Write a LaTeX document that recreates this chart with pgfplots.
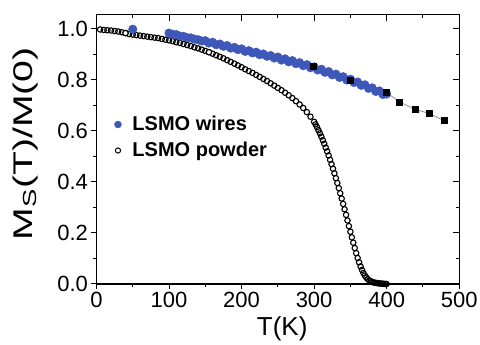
\documentclass[border=0pt]{standalone}
\usepackage{pgfplots}
\pgfplotsset{compat=1.18}
\usepackage{fontspec}
\setmainfont{Liberation Sans}
\definecolor{wireblue}{RGB}{62,88,186}
\definecolor{fitgray}{RGB}{140,140,170}
\begin{document}
\begin{tikzpicture}
\path[use as bounding box] (-96.5pt,-61pt) rectangle (383.5pt,284pt);
\begin{axis}[
  at={(0pt,0pt)}, anchor=south west, scale only axis,
  width=362.7pt, height=269.3pt,
  xmin=0, xmax=500, ymin=0, ymax=1.056,
  xtick={0,100,200,300,400,500},
  ytick={0,0.2,0.4,0.6,0.8,1.0},
  minor x tick num=1, minor y tick num=1,
  tick align=outside, xtick pos=left, ytick pos=left,
  major tick length=5pt, minor tick length=3pt,
  every tick/.style={line width=1pt, black},
  axis line style={line width=1.2pt},
  /pgf/number format/assume math mode=true,
  yticklabel style={/pgf/number format/fixed, /pgf/number format/fixed zerofill, /pgf/number format/precision=1},
  tick label style={font=\fontsize{22}{26}\selectfont},
  xlabel={T(K)},
  xlabel style={font=\fontsize{26}{30}\selectfont, at={(axis description cs:0.512,-0.165)}, anchor=center},
  ylabel={\scalebox{1.45}[1]{M\textsubscript{S}(T)/M(0)}},
  ylabel style={font=\fontsize{27}{30}\selectfont, at={(axis description cs:-0.197,0.52)}, anchor=center},
  legend style={at={(axis description cs:0.049,0.544)}, anchor=west, draw=none, fill=none,
    font=\bfseries\fontsize{20}{24}\selectfont, row sep=6pt, inner sep=0pt,
    /tikz/every odd column/.append style={column sep=9pt}},
  legend cell align=left,
]
\addlegendimage{only marks, mark=*, mark size=3.5pt, color=wireblue}
\addlegendentry{LSMO wires}
\addlegendimage{only marks, mark=o, mark size=2.6pt, black, mark options={line width=1pt}}
\addlegendentry{LSMO powder}

% LSMO powder (open circles)
\addplot[forget plot, only marks, mark=o, mark size=2.7pt, black, mark options={line width=1.1pt, fill=none}] coordinates {
(5,0.998)(10,0.996)(15,0.995)(20,0.994)(25,0.992)(30,0.990)(35,0.987)(40,0.984)(45,0.980)
(50,0.978)(55,0.976)(60,0.974)(65,0.972)(70,0.970)(75,0.968)(80,0.966)(85,0.964)(90,0.961)
(95,0.958)(100,0.955)(105,0.952)(110,0.948)(115,0.945)(120,0.941)(125,0.937)(130,0.933)
(135,0.928)(140,0.924)(145,0.919)(150,0.914)(155,0.909)(160,0.903)(165,0.897)(170,0.891)
(175,0.885)(180,0.878)(185,0.871)(190,0.864)(195,0.857)(200,0.850)(205,0.842)(210,0.835)
(215,0.828)(220,0.820)(225,0.812)(230,0.804)(235,0.796)(240,0.787)(245,0.778)(250,0.769)
(255,0.760)(260,0.750)(265,0.740)(270,0.729)(275,0.717)(280,0.704)(285,0.690)(290,0.674)
(295,0.656)(300,0.636)(302,0.626)(304,0.615)(306,0.603)(308,0.591)(310,0.578)(312,0.564)
(314,0.550)(316,0.535)(318,0.520)(320,0.504)(322,0.487)(324,0.470)(326,0.452)(328,0.434)
(330,0.415)(332,0.396)(334,0.376)(336,0.356)(338,0.335)(340,0.314)(342,0.293)(344,0.271)
(346,0.249)(348,0.227)(350,0.205)(352,0.183)(354,0.162)(356,0.141)(358,0.121)(360,0.102)
(362,0.085)(364,0.069)(366,0.055)(368,0.043)(370,0.033)(372,0.025)(374,0.019)(376,0.014)
(378,0.011)(380,0.008)(382,0.006)(384,0.005)(386,0.004)(388,0.003)(390,0.002)(392,0.002)
(394,0.001)(396,0.001)(398,0.000)(400,0.000)
};
\addplot[forget plot, only marks, mark=*, mark size=2.7pt, black, mark options={line width=1.1pt, fill=white}] coordinates {
(40,0.984)(155,0.909)
};

% LSMO wires (blue filled circles)
\addplot[forget plot, only marks, mark=*, mark size=4.3pt, color=wireblue] coordinates {
(50,0.999)
(100,0.984)(105,0.979)(110,0.978)(115,0.972)(120,0.971)(125,0.966)(130,0.965)(135,0.960)
(140,0.958)(145,0.953)(150,0.954)(155,0.945)(160,0.948)(165,0.938)(170,0.941)(175,0.932)
(180,0.935)(185,0.925)(190,0.928)(195,0.919)(200,0.922)(205,0.912)(210,0.915)(215,0.906)
(220,0.909)(225,0.899)(230,0.902)(235,0.893)(240,0.896)(245,0.886)(250,0.890)(255,0.878)
(260,0.883)(265,0.871)(270,0.876)(275,0.864)(280,0.868)(285,0.856)(290,0.860)(295,0.848)
(300,0.851)(305,0.839)(310,0.842)(315,0.830)(320,0.833)(325,0.820)(330,0.823)(335,0.810)
(340,0.813)(345,0.800)(350,0.803)(355,0.790)(360,0.792)(365,0.779)(370,0.781)(375,0.767)
(380,0.769)(385,0.755)(390,0.757)(395,0.743)(400,0.745)
};

% Squares with line
\addplot[forget plot, color=fitgray, line width=0.8pt, mark=square*, mark size=3pt, mark options={black, fill=black}] coordinates {
(299,0.852)(350,0.800)(400,0.750)(418,0.714)(439,0.685)(459,0.669)(479,0.640)
};
\end{axis}
\begin{axis}[
  at={(0pt,0pt)}, anchor=south west, scale only axis,
  width=362.7pt, height=269.3pt,
  xmin=0, xmax=500, ymin=0, ymax=1.056,
  xtick={0,100,200,300,400,500},
  ytick={0,0.2,0.4,0.6,0.8,1.0},
  minor x tick num=1, minor y tick num=1,
  tick align=inside, xtick pos=right, ytick pos=right,
  major tick length=6pt, minor tick length=3.5pt,
  every tick/.style={line width=1pt, black},
  axis line style={line width=1.2pt},
  xticklabels={}, yticklabels={},
]
\end{axis}
\end{tikzpicture}
\end{document}
